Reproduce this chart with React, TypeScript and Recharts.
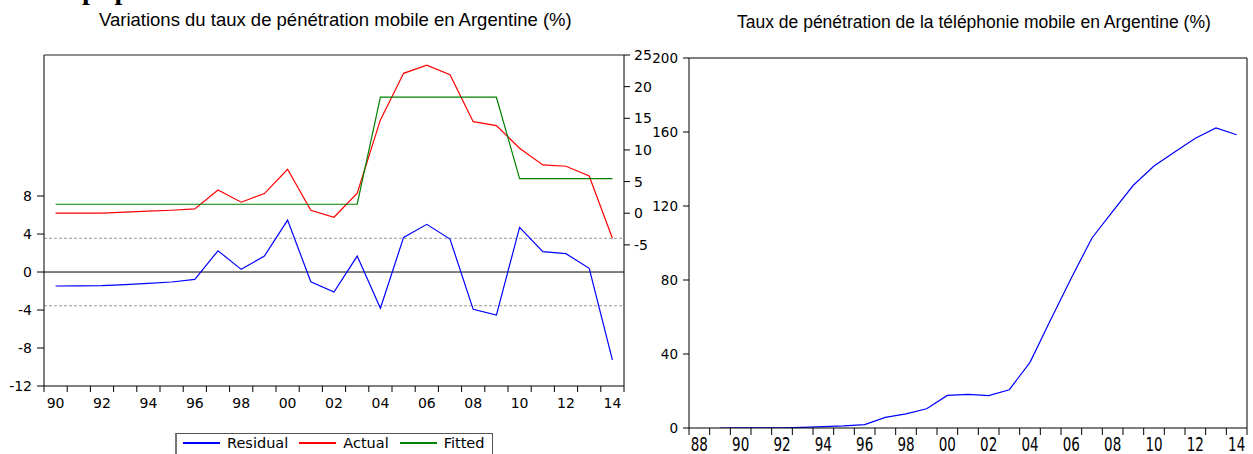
import { Line, LineChart, ReferenceLine, XAxis, YAxis } from 'recharts'

// left chart: residual / actual / fitted, 1990-2014
const years = [
  1990, 1991, 1992, 1993, 1994, 1995, 1996, 1997, 1998, 1999, 2000, 2001, 2002,
  2003, 2004, 2005, 2006, 2007, 2008, 2009, 2010, 2011, 2012, 2013, 2014,
]
const residual = [
  -1.47, -1.45, -1.44, -1.33, -1.19, -1.05, -0.77, 2.24, 0.28, 1.68, 5.47, -1.02, -2.1,
  1.68, -3.82, 3.65, 5.02, 3.47, -3.93, -4.53, 4.7, 2.14, 1.93, 0.39, -9.26,
]
const actual = [
  0.0, 0.0, 0.02, 0.16, 0.32, 0.47, 0.68, 3.68, 1.74, 3.1, 6.95, 0.47, -0.63,
  3.16, 14.74, 22.1, 23.4, 21.9, 14.47, 13.84, 10.27, 7.63, 7.42, 5.89, -3.95,
]
const fitted = [
  1.42, 1.42, 1.42, 1.42, 1.42, 1.42, 1.42, 1.42, 1.42, 1.42, 1.42, 1.42, 1.42,
  1.42, 18.33, 18.33, 18.33, 18.33, 18.33, 18.33, 5.47, 5.47, 5.47, 5.47, 5.47,
]
const residualBand = 3.55

// right chart: mobile penetration, 1989-2014
const penYears = [
  1989, 1990, 1991, 1992, 1993, 1994, 1995, 1996, 1997, 1998, 1999, 2000, 2001,
  2002, 2003, 2004, 2005, 2006, 2007, 2008, 2009, 2010, 2011, 2012, 2013, 2014,
]
const penetration = [
  0.0, 0.02, 0.05, 0.1, 0.35, 0.7, 1.1, 1.8, 5.7, 7.6, 10.4, 17.6, 18.2,
  17.5, 20.7, 35.5, 58.5, 81.1, 102.7, 117.1, 131.2, 141.6, 149.2, 156.6, 162.2, 158.5,
]

// ticks
const residualTicks = [-12, -8, -4, 0, 4, 8]
const actualTicks = [-5, 0, 5, 10, 15, 20, 25]
const penTicks = [0, 40, 80, 120, 160, 200]
const leftYearLabels = [1990, 1992, 1994, 1996, 1998, 2000, 2002, 2004, 2006, 2008, 2010, 2012, 2014]
const rightYearLabels = [1988, 1990, 1992, 1994, 1996, 1998, 2000, 2002, 2004, 2006, 2008, 2010, 2012, 2014]

const series = [
  { key: 'residual', label: 'Residual', color: '#0000ff' },
  { key: 'actual', label: 'Actual', color: '#ff0000' },
  { key: 'fitted', label: 'Fitted', color: '#008000' },
]

const leftRows = years.map((year, i) => ({ year, residual: residual[i], actual: actual[i], fitted: fitted[i] }))
const rightRows = penYears.map((year, i) => ({ year, penetration: penetration[i] }))

const tickFont = { fontSize: 14, fill: '#000', fontFamily: 'DejaVu Sans' }
const yy = (v: number) => String(v % 100).padStart(2, '0')
const boundaries = (first: number, last: number) => {
  const out: number[] = []
  for (let y = first; y <= last + 1; y++) out.push(y - 0.5)
  return out
}

function TallTick({ x, y, payload }: { x?: number; y?: number; payload?: { value: number } }) {
  return (
    <g transform={`translate(${x},${y})`}>
      <text transform="scale(1,1.4)" textAnchor="middle" dy="0.71em" fontSize={13.5} fontFamily="DejaVu Sans" fill="#000">
        {yy(payload?.value ?? 0)}
      </text>
    </g>
  )
}

function LeftChart() {
  const domain: [number, number] = [1989.5, 2014.5]
  return (
    <LineChart width={670} height={454} data={leftRows} margin={{ top: 54, right: 0, bottom: 30, left: 0 }}>
      <XAxis
        xAxisId="top"
        orientation="top"
        type="number"
        dataKey="year"
        domain={domain}
        allowDataOverflow
        height={1}
        tick={false}
        tickLine={false}
        axisLine={{ stroke: '#222' }}
      />
      <XAxis
        type="number"
        dataKey="year"
        domain={domain}
        allowDataOverflow
        ticks={boundaries(1990, 2014)}
        interval={0}
        height={8}
        tickSize={6}
        tickFormatter={() => ''}
        axisLine={{ stroke: '#000' }}
        tickLine={{ stroke: '#000' }}
      />
      <XAxis
        xAxisId="labels"
        type="number"
        dataKey="year"
        domain={domain}
        allowDataOverflow
        ticks={leftYearLabels}
        interval={0}
        height={30}
        tickSize={0}
        tickMargin={4}
        tickLine={false}
        axisLine={false}
        tickFormatter={yy}
        tick={tickFont}
      />
      <YAxis
        yAxisId="res"
        domain={[-12, 22.85]}
        allowDataOverflow
        ticks={residualTicks}
        interval={0}
        width={44}
        tickSize={7}
        tickMargin={5}
        tick={tickFont}
        axisLine={{ stroke: '#000' }}
        tickLine={{ stroke: '#000' }}
      />
      <YAxis
        yAxisId="act"
        orientation="right"
        domain={[-27.3, 25]}
        allowDataOverflow
        ticks={actualTicks}
        interval={0}
        width={46}
        tickSize={6}
        tickMargin={4}
        tick={tickFont}
        axisLine={{ stroke: '#000' }}
        tickLine={{ stroke: '#000' }}
      />
      <ReferenceLine yAxisId="res" y={residualBand} stroke="#9a9a9a" strokeDasharray="3 2" />
      <ReferenceLine yAxisId="res" y={-residualBand} stroke="#9a9a9a" strokeDasharray="3 2" />
      <ReferenceLine yAxisId="res" y={0} stroke="#000" />
      <Line yAxisId="res" dataKey="residual" stroke={series[0].color} strokeWidth={1.2} dot={false} isAnimationActive={false} />
      <Line yAxisId="act" dataKey="actual" stroke={series[1].color} strokeWidth={1.2} dot={false} isAnimationActive={false} />
      <Line yAxisId="act" dataKey="fitted" stroke={series[2].color} strokeWidth={1.2} dot={false} isAnimationActive={false} />
    </LineChart>
  )
}

function RightChart() {
  const domain: [number, number] = [1987.5, 2014.5]
  return (
    <LineChart width={653} height={454} data={rightRows} margin={{ top: 57, right: 0, bottom: 0, left: 0 }}>
      <XAxis
        xAxisId="top"
        orientation="top"
        type="number"
        dataKey="year"
        domain={domain}
        allowDataOverflow
        height={1}
        tick={false}
        tickLine={false}
        axisLine={{ stroke: '#000' }}
      />
      <XAxis
        type="number"
        dataKey="year"
        domain={domain}
        allowDataOverflow
        ticks={boundaries(1988, 2014)}
        interval={0}
        height={7}
        tickSize={7}
        tickFormatter={() => ''}
        axisLine={{ stroke: '#000' }}
        tickLine={{ stroke: '#000' }}
      />
      <XAxis
        xAxisId="labels"
        type="number"
        dataKey="year"
        domain={domain}
        allowDataOverflow
        ticks={rightYearLabels}
        interval={0}
        height={19}
        tickSize={0}
        tickMargin={3}
        tickLine={false}
        axisLine={false}
        tick={<TallTick />}
      />
      <YAxis
        domain={[0, 200]}
        allowDataOverflow
        ticks={penTicks}
        interval={0}
        width={89}
        tickSize={6}
        tickMargin={5}
        tick={{ ...tickFont, fontSize: 13.5 }}
        axisLine={{ stroke: '#000' }}
        tickLine={{ stroke: '#000' }}
      />
      <YAxis
        yAxisId="frame"
        orientation="right"
        domain={[0, 200]}
        allowDataOverflow
        width={6}
        tick={false}
        tickLine={false}
        axisLine={{ stroke: '#000' }}
      />
      <Line dataKey="penetration" stroke="#0000ff" strokeWidth={1.2} dot={false} isAnimationActive={false} />
    </LineChart>
  )
}

function Legend() {
  return (
    <div
      style={{
        position: 'absolute',
        left: 175,
        top: 433,
        width: 318,
        height: 26,
        border: '1px solid #555',
        borderLeft: '2px solid #777',
        display: 'flex',
        alignItems: 'center',
        paddingLeft: 6,
        paddingBottom: 6,
        boxSizing: 'border-box',
        fontFamily: 'DejaVu Sans',
        fontSize: 14.5,
        color: '#000',
      }}
    >
      {series.map((s, i) => (
        <div key={s.key} style={{ display: 'flex', alignItems: 'center', marginLeft: i === 0 ? 0 : 11 }}>
          <span style={{ display: 'inline-block', width: 37, height: 1.5, background: s.color, marginRight: 7 }} />
          <span>{s.label}</span>
        </div>
      ))}
    </div>
  )
}

export default function App() {
  return (
    <div style={{ position: 'absolute', left: 0, top: 0, width: 1253, height: 454, overflow: 'hidden', background: '#fff' }}>
      <svg width={1253} height={454} style={{ position: 'absolute', left: 0, top: 0 }}>
        <text x={82} y={-1} fontFamily="Liberation Serif" fontWeight="bold" fontSize={28} letterSpacing={17} fill="#000">
          pp
        </text>
        <text x={99} y={26} fontFamily="Liberation Sans" fontSize={18.5} fill="#000">
          Variations du taux de pénétration mobile en Argentine (%)
        </text>
        <text x={737} y={28} fontFamily="Liberation Sans" fontSize={17.5} fill="#000">
          Taux de pénétration de la téléphonie mobile en Argentine (%)
        </text>
      </svg>
      <div style={{ position: 'absolute', left: 0, top: 0 }}>
        <LeftChart />
      </div>
      <div style={{ position: 'absolute', left: 600, top: 0 }}>
        <RightChart />
      </div>
      <Legend />
    </div>
  )
}
